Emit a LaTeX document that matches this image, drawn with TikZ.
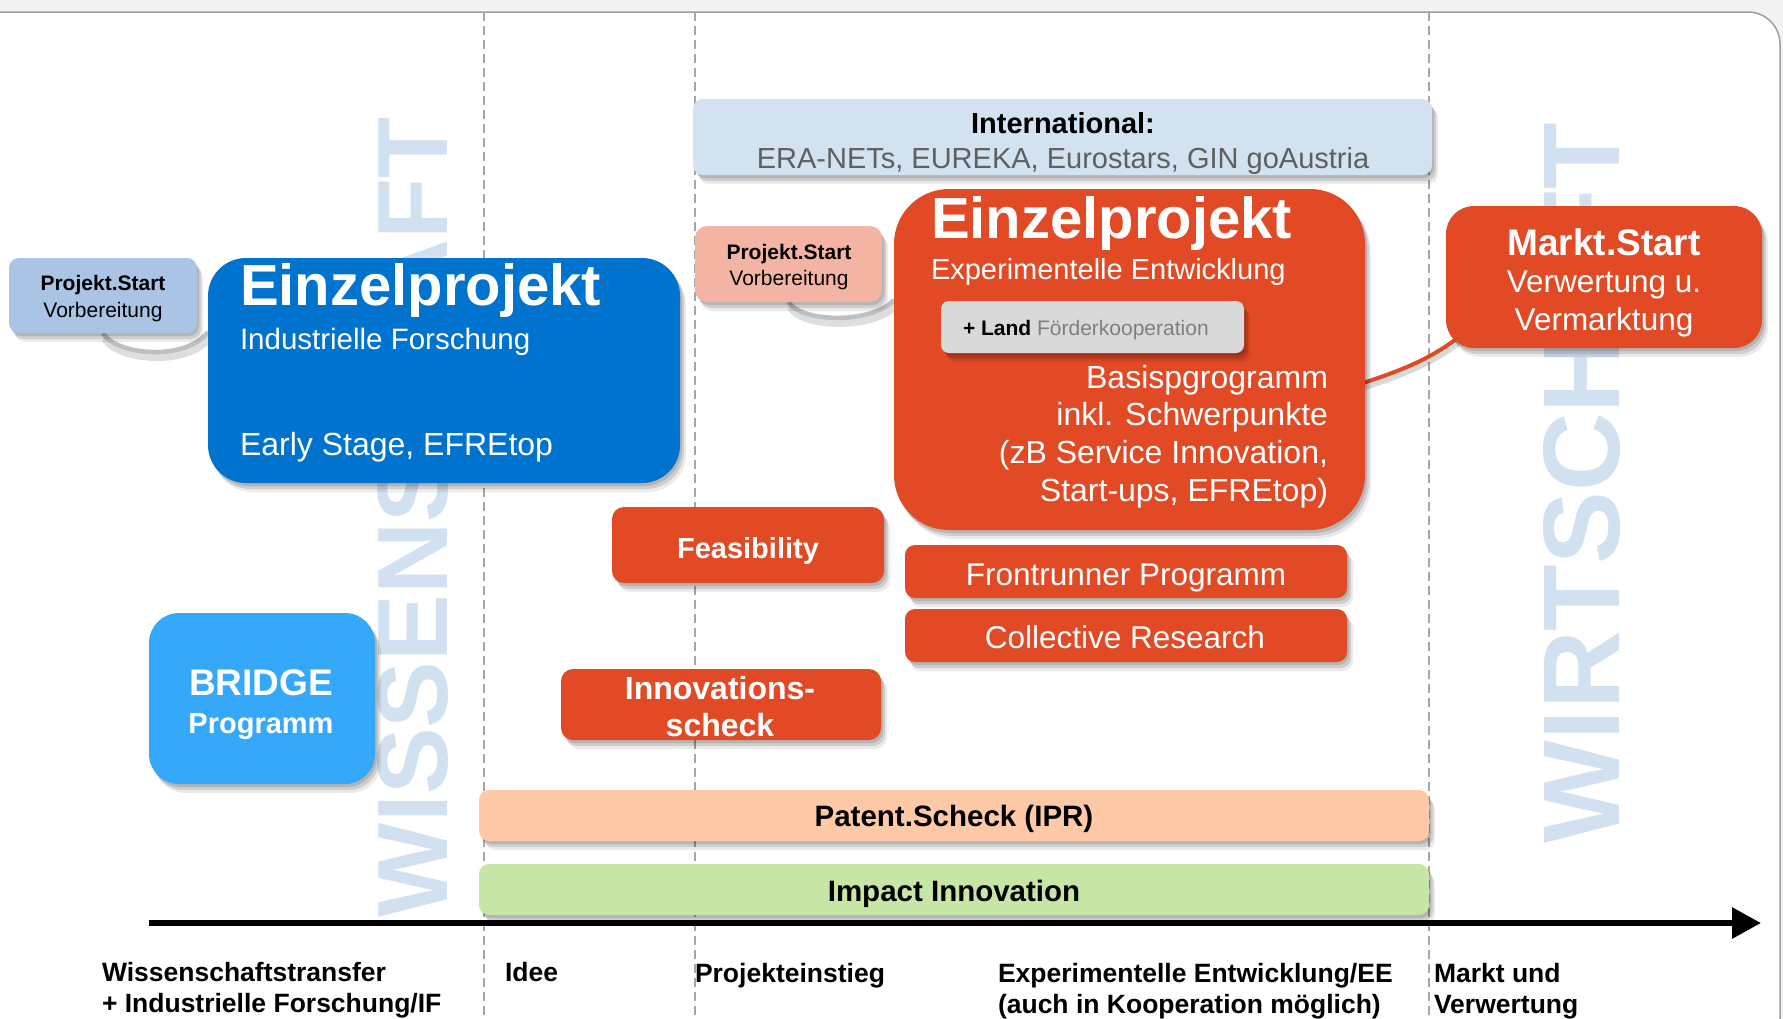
\documentclass[tikz,border=0pt]{standalone}
\usepackage{fontspec}
\setmainfont{Liberation Sans}
\usetikzlibrary{shadows,arrows.meta,calc}
\definecolor{orng}{HTML}{E24A26}
\definecolor{blu}{HTML}{0073CF}
\definecolor{bridgeblue}{HTML}{36A8FA}
\definecolor{projblue}{HTML}{A9C4E4}
\definecolor{intlblue}{HTML}{D3E2F1}
\definecolor{projpink}{HTML}{F4B4A4}
\definecolor{landgray}{HTML}{D9D9D9}
\definecolor{patentpeach}{HTML}{FFC9A8}
\definecolor{impactgreen}{HTML}{C7E6A5}
\definecolor{wmblue}{HTML}{D2E1F0}
\definecolor{dashgray}{HTML}{A6A6A6}
\definecolor{framegray}{HTML}{9E9E9E}
\definecolor{topgray}{HTML}{F3F3F3}
\definecolor{curvegray}{HTML}{BFBFBF}
\definecolor{txtgray}{HTML}{5F5F5F}
\definecolor{landtxt}{HTML}{7F7F7F}
\newcommand\setfz[1]{\fontsize{#1}{#1}\selectfont}
\pgfdeclarelayer{back}
\pgfsetlayers{back,main}
\begin{document}
\begin{tikzpicture}[x=1pt,y=-1pt,
  box/.style={rounded corners=#1, inner sep=0pt, outer sep=0pt, anchor=north west,
    drop shadow={shadow xshift=6pt,shadow yshift=-9pt,opacity=0.08,fill=black},
    drop shadow={shadow xshift=4pt,shadow yshift=-6pt,opacity=0.12,fill=black},
    drop shadow={shadow xshift=2pt,shadow yshift=-3pt,opacity=0.12,fill=black}},
  box/.default=10,
  txt/.style={inner sep=0pt, outer sep=0pt},
  vdashline/.style={dashgray, line width=1.6pt, dash pattern=on 9pt off 5pt},
  wm/.style={inner sep=0pt, outer sep=0pt, text=wmblue, rotate=90, anchor=base west},
  curveshadow/.style={black, opacity=0.13, line width=8pt, transform canvas={xshift=2pt,yshift=-5pt}},
  curveline/.style={curvegray, line width=4.5pt},
]
\useasboundingbox (0,0) rectangle (1783,1018);

% ---------- frame, dashed lines, watermarks (background layer)
\begin{pgfonlayer}{back}
\fill[topgray] (0,0) rectangle (1783,1018);
\draw[framegray, fill=white, line width=1.5pt, rounded corners=32pt] (-40,12) rectangle (1780,1070);
\coordinate (d1t) at (484,12);  \coordinate (d1b) at (484,1018);
\coordinate (d2t) at (695,12);  \coordinate (d2b) at (695,1018);
\coordinate (d3t) at (1429,12); \coordinate (d3b) at (1429,1018);
\draw[vdashline] (d1t) -- (d1b);
\draw[vdashline] (d2t) -- (d2b);
\draw[vdashline] (d3t) -- (d3b);
\node[wm, font=\setfz{100}\bfseries] (wmL) at (447,917) {WISSENSCHAFT};
\node[wm, font=\setfz{109}\bfseries] (wmR) at (1619,843) {WIRTSCHAFT};
\end{pgfonlayer}

% ---------- boxes
\node[box=10, fill=projblue, minimum width=188pt, minimum height=75pt] (projL) at (9,258) {};
\node[box=38, fill=blu, minimum width=472pt, minimum height=225pt] (einzelB) at (208,258) {};
\node[box=10, fill=intlblue, minimum width=739pt, minimum height=76pt] (intl) at (693,99) {};
\node[box=12, fill=projpink, minimum width=187pt, minimum height=76pt] (projR) at (695,226) {};
\node[box=55, fill=orng, minimum width=471pt, minimum height=341pt] (einzelO) at (894,189) {};
\node[box=8, fill=landgray, minimum width=303pt, minimum height=52pt] (land) at (941,301) {};
\node[box=28, fill=orng, minimum width=316pt, minimum height=142pt] (markt) at (1446,206) {};
\node[box=12, fill=orng, minimum width=272pt, minimum height=76pt] (feas) at (612,507) {};
\node[box=10, fill=orng, minimum width=442pt, minimum height=53pt] (front) at (905,545) {};
\node[box=10, fill=orng, minimum width=442pt, minimum height=53pt] (coll) at (905,609) {};
\node[box=30, fill=bridgeblue, minimum width=226pt, minimum height=171pt] (bridge) at (149,613) {};
\node[box=12, fill=orng, minimum width=320pt, minimum height=71pt] (innov) at (561,669) {};
\node[box=10, fill=patentpeach, minimum width=950pt, minimum height=51pt] (patent) at (479,790) {};
\node[box=10, fill=impactgreen, minimum width=950pt, minimum height=51pt] (impact) at (479,864) {};

% ---------- connectors (behind boxes)
\begin{pgfonlayer}{back}
\coordinate (cLa) at (projL.south);
\coordinate (cLb) at ($(einzelB.north west)+(0,74)$);
\coordinate (cRa) at (projR.south);
\coordinate (cRb) at ($(einzelO.north west)+(0,111)$);
\coordinate (mA) at ($(einzelO.north east)+(-2,194)$);
\coordinate (mB) at ($(markt.south west)+(10,-9)$);
\draw[curveshadow] (cLa) .. controls (115,355) and (185,362) .. (cLb);
\draw[curveline] (cLa) .. controls (115,355) and (185,362) .. (cLb);
\draw[curveshadow] (cRa) .. controls (800,322) and (870,325) .. (cRb);
\draw[curveline] (cRa) .. controls (800,322) and (870,325) .. (cRb);
\draw[black, opacity=0.15, line width=6pt, transform canvas={xshift=2pt,yshift=-4pt}] (mA) .. controls (1400,371) and (1430,359) .. (mB);
\draw[orng, line width=4pt] (mA) .. controls (1400,371) and (1430,359) .. (mB);
\end{pgfonlayer}

% ---------- texts
\node[txt, anchor=base, font=\setfz{21}\bfseries] (tPL1) at (103,290) {Projekt.Start};
\node[txt, anchor=base, font=\setfz{21}] (tPL2) at (103,317) {Vorbereitung};
\node[txt, anchor=base west, text=white, font=\setfz{58}\bfseries] (tB1) at (240,305) {Einzelprojekt};
\node[txt, anchor=base west, text=white, font=\setfz{29.5}] (tB2) at (240,349) {Industrielle Forschung};
\node[txt, anchor=base west, text=white, font=\setfz{32}] (tB3) at (240,455) {Early Stage, EFREtop};
\node[txt, anchor=base, font=\setfz{29}\bfseries] (tI1) at (1063,133) {International:};
\node[txt, anchor=base, text=txtgray, font=\setfz{29}] (tI2) at (1063,168) {ERA-NETs, EUREKA, Eurostars, GIN goAustria};
\node[txt, anchor=base, font=\setfz{21}\bfseries] (tPR1) at (789,259) {Projekt.Start};
\node[txt, anchor=base, font=\setfz{21}] (tPR2) at (789,285) {Vorbereitung};
\node[txt, anchor=base west, text=white, font=\setfz{58}\bfseries] (tO1) at (931,238) {Einzelprojekt};
\node[txt, anchor=base west, text=white, font=\setfz{29}] (tO2) at (931,279) {Experimentelle Entwicklung};
\node[txt, anchor=base west, font=\setfz{21}] (tL) at (963,335) {\bfseries + Land \mdseries\color{landtxt}Förderkooperation};
\node[txt, anchor=base east, text=white, font=\setfz{32}] (tO3) at (1328,388) {Basispgrogramm};
\node[txt, anchor=base east, text=white, font=\setfz{32}] (tO4) at (1328,425) {inkl. Schwerpunkte};
\node[txt, anchor=base east, text=white, font=\setfz{32}] (tO5) at (1328,463) {(zB Service Innovation,};
\node[txt, anchor=base east, text=white, font=\setfz{32}] (tO6) at (1328,501) {Start-ups, EFREtop)};
\node[txt, anchor=base, text=white, font=\setfz{37}\bfseries] (tM1) at (1604,255) {Markt.Start};
\node[txt, anchor=base, text=white, font=\setfz{31.5}] (tM2) at (1604,292) {Verwertung u.};
\node[txt, anchor=base, text=white, font=\setfz{31.5}] (tM3) at (1604,330) {Vermarktung};
\node[txt, anchor=base, text=white, font=\setfz{29}\bfseries] (tF) at (748,558) {Feasibility};
\node[txt, anchor=base, text=white, font=\setfz{31.5}] (tFr) at (1126,585) {Frontrunner Programm};
\node[txt, anchor=base, text=white, font=\setfz{31.5}] (tCo) at (1125,648) {Collective Research};
\node[txt, anchor=base, text=white, font=\setfz{32}\bfseries] (tIn1) at (720,699) {Innovations-};
\node[txt, anchor=base, text=white, font=\setfz{32}\bfseries] (tIn2) at (720,736) {scheck};
\node[txt, anchor=base, text=white, font=\setfz{37}\bfseries] (tBr1) at (261,695) {BRIDGE};
\node[txt, anchor=base, text=white, font=\setfz{29}\bfseries] (tBr2) at (261,733) {Programm};
\node[txt, anchor=base, font=\setfz{29.5}\bfseries] (tPa) at (954,826) {Patent.Scheck (IPR)};
\node[txt, anchor=base, font=\setfz{29.5}\bfseries] (tIm) at (954,901) {Impact Innovation};

% ---------- axis
\coordinate (axS) at (149,923);
\coordinate (axE) at (1761,923);
\draw[line width=6pt, -{Triangle[length=29pt,width=30pt]}] (axS) -- (axE);

% ---------- bottom labels
\node[txt, anchor=base west, font=\setfz{26.5}\bfseries] (b1a) at (102,981) {Wissenschaftstransfer};
\node[txt, anchor=base west, font=\setfz{26.5}\bfseries] (b1b) at (102,1012) {+ Industrielle Forschung/IF};
\node[txt, anchor=base west, font=\setfz{26.5}\bfseries] (b2) at (505,981) {Idee};
\node[txt, anchor=base west, font=\setfz{26.5}\bfseries] (b3) at (695,982) {Projekteinstieg};
\node[txt, anchor=base west, font=\setfz{26.5}\bfseries] (b4a) at (998,982) {Experimentelle Entwicklung/EE};
\node[txt, anchor=base west, font=\setfz{26.5}\bfseries] (b4b) at (998,1013) {(auch in Kooperation möglich)};
\node[txt, anchor=base west, font=\setfz{26.5}\bfseries] (b5a) at (1434,982) {Markt und};
\node[txt, anchor=base west, font=\setfz{26.5}\bfseries] (b5b) at (1434,1013) {Verwertung};
\end{tikzpicture}
\end{document}
